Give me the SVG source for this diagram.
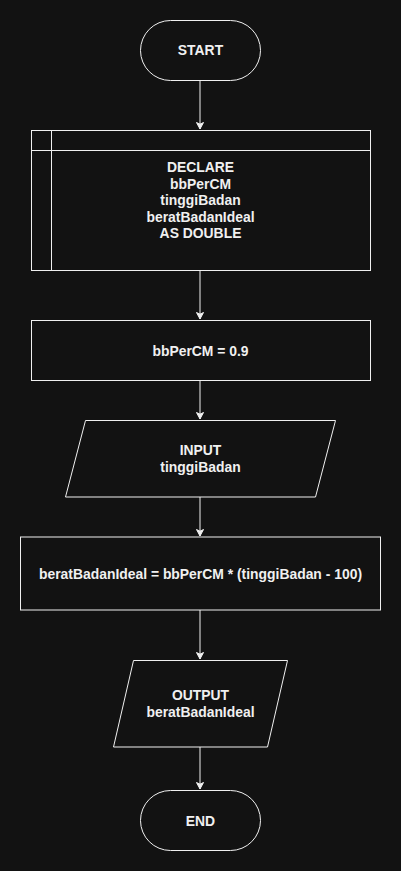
<svg xmlns="http://www.w3.org/2000/svg" width="401" height="871" viewBox="0 0 401 871">
<style>
.s{fill:#121212;stroke:#f0f0f0;stroke-width:1}
.t{font-family:"Liberation Sans",Arial,sans-serif;font-size:13.9px;font-weight:bold;fill:#f0f0f0;text-anchor:middle;dominant-baseline:central}
.c{stroke:#f0f0f0;stroke-width:1;fill:none}
</style>
<defs>
<marker id="ah" markerWidth="8" markerHeight="8" refX="7" refY="4" orient="auto" markerUnits="userSpaceOnUse">
<path d="M0.5,0.5 L7,4 L0.5,7.5 L2.2,4 Z" fill="#f0f0f0" stroke="#f0f0f0" stroke-width="1"/>
</marker>
</defs>
<rect width="401" height="871" fill="#121212"/>
<g id="connectors">
<line class="c" x1="200" y1="80" x2="200" y2="129" marker-end="url(#ah)"/>
<line class="c" x1="200" y1="270" x2="200" y2="319" marker-end="url(#ah)"/>
<line class="c" x1="200" y1="380" x2="200" y2="419" marker-end="url(#ah)"/>
<line class="c" x1="200" y1="497" x2="200" y2="536" marker-end="url(#ah)"/>
<line class="c" x1="200" y1="610" x2="200" y2="659" marker-end="url(#ah)"/>
<line class="c" x1="200" y1="747" x2="200" y2="789" marker-end="url(#ah)"/>
</g>
<g id="start">
<rect class="s" x="140.5" y="20.5" width="120" height="60" rx="30" ry="30"/>
<text class="t" x="200.5" y="50">START</text>
</g>
<g id="declare">
<rect class="s" x="31.5" y="130.5" width="339" height="140"/>
<line class="c" x1="31.5" y1="150.5" x2="370.5" y2="150.5"/>
<line class="c" x1="51.5" y1="130.5" x2="51.5" y2="270.5"/>
<text class="t" x="200.5" y="167">DECLARE</text>
<text class="t" x="200.5" y="183.5">bbPerCM</text>
<text class="t" x="200.5" y="200">tinggiBadan</text>
<text class="t" x="200.5" y="216.5">beratBadanIdeal</text>
<text class="t" x="200.5" y="233">AS DOUBLE</text>
</g>
<g id="assign">
<rect class="s" x="31.5" y="320.5" width="339" height="60"/>
<text class="t" x="200.5" y="350.5">bbPerCM = 0.9</text>
</g>
<g id="input">
<polygon class="s" points="85.5,420.5 335.5,420.5 315.5,497 65.5,497"/>
<text class="t" x="200.5" y="450">INPUT</text>
<text class="t" x="200.5" y="467">tinggiBadan</text>
</g>
<g id="calc">
<rect class="s" x="20.5" y="537" width="360" height="73"/>
<text class="t" x="200.5" y="573.5">beratBadanIdeal = bbPerCM * (tinggiBadan - 100)</text>
</g>
<g id="output">
<polygon class="s" points="133.5,660.5 287.5,660.5 267.5,747 113.5,747"/>
<text class="t" x="200.5" y="695">OUTPUT</text>
<text class="t" x="200.5" y="712">beratBadanIdeal</text>
</g>
<g id="end">
<rect class="s" x="140.5" y="790.5" width="120" height="60" rx="30" ry="30"/>
<text class="t" x="200.5" y="820.5">END</text>
</g>
</svg>
